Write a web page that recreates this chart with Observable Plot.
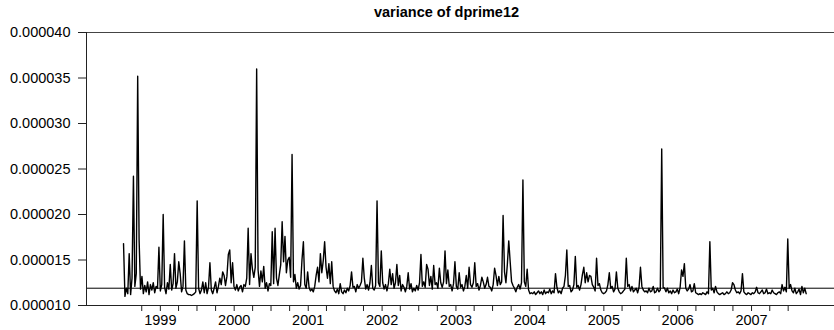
<!DOCTYPE html>
<html>
<head>
<meta charset="utf-8">
<script src="https://cdn.jsdelivr.net/npm/d3@7"></script>
<script src="https://cdn.jsdelivr.net/npm/@observablehq/plot@0.6"></script>
<style>
  html, body { margin: 0; padding: 0; background: #fff; }
  svg { display: block; }
</style>
</head>
<body>
<div id="chart"></div>
<script>
// Chart title
const title = "variance of dprime12";

// Weekly observations starting at this date (one value per week)
const seriesStart = "1998-07-03";

// Variance values, in units of 1e-6
const varianceE6 = [
  16.8, 11.0, 11.9, 11.3, 15.7, 11.2, 13.0, 24.2, 12.1, 13.5, 35.2, 17.2, 11.8,
  13.2, 11.3, 12.2, 11.5, 12.6, 11.2, 12.3, 11.7, 12.5, 11.4, 12.1, 11.9, 16.4,
  11.6, 12.3, 20.0, 12.0, 11.3, 12.5, 11.8, 14.5, 11.7, 12.4, 15.7, 11.9, 12.6,
  14.8, 13.5, 11.5, 12.1, 17.1, 11.7, 11.3, 11.2, 11.2, 11.1, 11.2, 11.3, 11.5,
  21.5, 11.9, 11.3, 11.7, 12.6, 11.4, 12.5, 11.3, 12.0, 14.7, 11.7, 11.3, 11.9,
  12.6, 11.4, 12.1, 13.0, 12.3, 13.7, 13.3, 12.2, 13.2, 15.6, 16.1, 12.5, 14.7,
  12.1, 11.7, 12.3, 11.6, 12.0, 12.2, 11.5, 12.3, 12.1, 13.0, 18.5, 12.3, 15.7,
  14.0, 13.1, 14.2, 36.0, 13.9, 12.1, 13.8, 12.6, 14.3, 11.9, 12.5, 11.6, 12.4,
  12.2, 18.1, 12.4, 18.5, 13.0, 12.2, 13.4, 14.5, 19.2, 14.8, 17.6, 13.6, 15.0,
  15.3, 13.1, 26.6, 12.6, 13.4, 11.9, 12.5, 11.8, 12.2, 15.0, 17.0, 12.3, 11.9,
  13.7, 12.0, 11.6, 11.8, 11.5, 12.1, 13.3, 14.2, 12.6, 15.7, 13.6, 14.9, 17.0,
  14.2, 13.0, 14.6, 12.4, 14.8, 12.1, 11.6, 11.4, 11.8, 11.3, 12.4, 11.5, 11.3,
  11.7, 11.4, 11.9, 11.6, 12.2, 13.7, 12.0, 12.1, 11.5, 12.3, 11.9, 12.2, 12.6,
  15.2, 13.0, 11.8, 12.3, 11.7, 12.5, 14.4, 11.9, 11.7, 12.2, 21.5, 12.5, 12.1,
  16.0, 12.5, 11.8, 12.3, 11.6, 12.4, 14.0, 12.3, 13.5, 11.9, 12.5, 14.5, 12.2,
  13.3, 11.6, 12.3, 12.0, 11.5, 12.1, 13.6, 11.8, 12.4, 11.5, 11.9, 11.6, 12.2,
  11.7, 12.5, 15.6, 12.1, 12.6, 12.0, 14.5, 14.0, 12.2, 13.2, 11.8, 14.4, 12.3,
  12.5, 11.9, 14.1, 12.5, 12.0, 12.6, 16.0, 12.4, 13.9, 12.1, 12.3, 11.6, 12.4,
  14.8, 12.1, 11.8, 13.6, 12.0, 12.3, 11.6, 12.1, 13.3, 11.9, 14.2, 12.3, 12.0,
  12.5, 14.7, 12.1, 12.4, 11.7, 12.2, 13.1, 12.6, 11.9, 12.3, 13.1, 12.1, 12.0,
  11.6, 12.3, 14.1, 13.3, 12.2, 13.2, 12.3, 12.6, 19.9, 13.7, 12.5, 14.5, 17.1,
  14.8, 12.6, 12.2, 11.9, 11.5, 12.0, 12.3, 11.8, 12.5, 23.8, 12.6, 12.1, 14.0,
  11.7, 11.3, 11.4, 11.3, 11.5, 11.2, 11.4, 11.6, 11.3, 11.5, 11.2, 11.7, 11.3,
  11.5, 11.4, 11.8, 11.3, 11.6, 11.4, 13.5, 12.0, 11.4, 11.6, 11.3, 11.9, 12.1,
  13.3, 16.1, 12.1, 12.2, 11.5, 11.7, 12.3, 15.4, 12.0, 12.2, 11.7, 12.3, 13.4,
  14.2, 12.5, 13.6, 12.6, 13.3, 13.2, 12.3, 12.0, 11.6, 15.2, 12.2, 12.4, 11.7,
  11.4, 11.3, 11.4, 11.6, 12.3, 13.6, 11.9, 12.1, 11.5, 11.8, 13.7, 11.9, 11.5,
  11.3, 11.4, 11.6, 11.8, 15.2, 12.1, 12.3, 11.6, 12.1, 11.5, 11.7, 11.9, 11.4,
  12.0, 14.2, 12.1, 11.7, 11.5, 11.6, 11.4, 11.9, 11.5, 11.6, 12.1, 11.4, 11.5,
  11.9, 11.5, 11.7, 27.2, 12.0, 11.9, 11.5, 11.9, 11.4, 11.6, 11.3, 11.7, 11.4,
  11.5, 11.8, 11.3, 12.0, 13.9, 13.2, 14.6, 11.9, 11.6, 11.8, 12.3, 11.5, 11.6,
  12.4, 11.4, 11.3, 11.2, 11.3, 11.2, 11.4, 11.3, 11.2, 11.5, 11.3, 17.0, 11.7,
  11.9, 11.4, 12.1, 11.5, 11.3, 11.2, 11.3, 11.4, 11.2, 11.3, 11.5, 11.3, 11.4,
  11.7, 12.5, 12.3, 11.7, 11.4, 11.5, 11.3, 11.6, 13.5, 11.5, 11.3, 11.2, 11.4,
  11.3, 11.2, 11.4, 11.3, 11.5, 12.0, 11.4, 11.3, 11.5, 11.7, 11.3, 11.4, 11.8,
  11.3, 11.4, 11.3, 11.7, 11.4, 11.3, 11.2, 11.4, 11.5, 11.3, 12.3, 11.6, 12.0,
  11.5, 17.3, 11.9, 12.3, 11.6, 11.4, 11.9, 11.3, 11.5, 11.8, 11.2, 12.1, 11.4, 11.9, 11.3
];

// Horizontal reference line value
const referenceLevel = 0.0000119;

// Y-axis tick values
const yTicks = [0.000010, 0.000015, 0.000020, 0.000025, 0.000030, 0.000035, 0.000040];

// X-axis year labels
const yearLabels = [1999, 2000, 2001, 2002, 2003, 2004, 2005, 2006, 2007];

// Axis extent
const xStart = new Date(Date.UTC(1998, 0, 1));
const xEnd = new Date(Date.UTC(2008, 1, 15));
const quarterTickStart = new Date(Date.UTC(1998, 9, 1));
const quarterTickEnd = new Date(Date.UTC(2007, 7, 1));

// Build table
const t0 = new Date(seriesStart + "T00:00:00Z");
const data = varianceE6.map((v, i) => ({
  date: d3.utcDay.offset(t0, 7 * i),
  value: v * 1e-6
}));
const yearDates = yearLabels.map(y => new Date(Date.UTC(y, 0, 1)));
const quarterDates = d3.utcMonth.every(3).range(quarterTickStart, quarterTickEnd);

const font = "'Liberation Sans', Arial, Helvetica, sans-serif";

const chart = Plot.plot({
  width: 834,
  height: 330,
  marginLeft: 86,
  marginRight: 0,
  marginTop: 32,
  marginBottom: 25,
  style: { fontFamily: font, fontSize: "14.5px", color: "#000", background: "#fff" },
  x: { type: "utc", domain: [xStart, xEnd], label: null },
  y: { domain: [0.00001, 0.00004], label: null },
  marks: [
    Plot.lineY(data, { x: "date", y: "value", stroke: "#000", strokeWidth: 1.4 }),
    Plot.ruleY([referenceLevel], { stroke: "#000", strokeWidth: 1 }),
    Plot.ruleY([0.00004], { stroke: "#444", strokeWidth: 1 }),
    Plot.ruleY([0.00001], { stroke: "#222", strokeWidth: 1 }),
    Plot.ruleX([xStart], { stroke: "#222", strokeWidth: 1 }),
    Plot.axisY({
      ticks: yTicks,
      tickSize: 8,
      tickPadding: 8,
      tickFormat: d3.format(".6f"),
      label: null,
      stroke: "#222",
      fontSize: 14.5
    }),
    Plot.axisX({
      ticks: quarterDates,
      tickSize: 6,
      tickFormat: () => "",
      label: null,
      stroke: "#222"
    }),
    Plot.axisX({
      ticks: yearDates,
      tickSize: 0,
      tickPadding: 9,
      tickFormat: d3.utcFormat("%Y"),
      label: null,
      fontSize: 14.5
    }),
    Plot.text([title], {
      frameAnchor: "top",
      lineAnchor: "middle",
      dy: -20,
      dx: -14,
      fontWeight: "bold",
      fontSize: 14.5,
      fill: "#000"
    })
  ]
});

document.getElementById("chart").appendChild(chart);
</script>
</body>
</html>
